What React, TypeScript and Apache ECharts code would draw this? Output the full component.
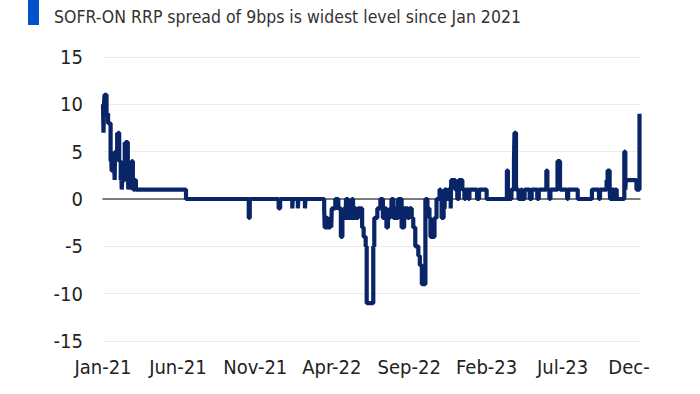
import React, { useEffect, useRef } from "react";
import * as echarts from "echarts";

const titleText = "SOFR-ON RRP spread of 9bps is widest level since Jan 2021";
const xTickDates = ["2021-01-04", "2021-06-01", "2021-11-01", "2022-04-01", "2022-09-01", "2023-02-01", "2023-07-01", "2023-12-01"];
const xTickLabels = ["Jan-21", "Jun-21", "Nov-21", "Apr-22", "Sep-22", "Feb-23", "Jul-23", "Dec-"];
const yMin = -15;
const yMax = 15;
const yStep = 5;

// SOFR minus ON RRP rate, bps (change points; value holds until next date)
const spread2021: [string, number][] = [
  ["2021-01-04", 10], ["2021-01-05", 7], ["2021-01-06", 10], ["2021-01-07", 11], ["2021-01-11", 9],
  ["2021-01-14", 8], ["2021-01-19", 4], ["2021-01-20", 5], ["2021-01-21", 3], ["2021-01-26", 4],
  ["2021-01-27", 2], ["2021-01-28", 5], ["2021-02-01", 7], ["2021-02-02", 6], ["2021-02-03", 7],
  ["2021-02-05", 4], ["2021-02-08", 2], ["2021-02-09", 3], ["2021-02-10", 1], ["2021-02-11", 2],
  ["2021-02-16", 6], ["2021-02-17", 5], ["2021-02-18", 6], ["2021-02-22", 3], ["2021-02-23", 1],
  ["2021-02-24", 2], ["2021-02-25", 1], ["2021-02-26", 3], ["2021-03-01", 2], ["2021-03-02", 4],
  ["2021-03-04", 2], ["2021-03-05", 1], ["2021-03-08", 2], ["2021-03-10", 1], ["2021-06-17", 0],
  ["2021-10-19", -2], ["2021-10-21", 0], ["2021-12-17", -1], ["2021-12-20", 0],
];

const spread2022: [string, number][] = [
  ["2022-01-13", -1], ["2022-01-14", 0], ["2022-01-24", -1], ["2022-01-25", 0], ["2022-02-07", -1],
  ["2022-02-08", 0], ["2022-03-17", -1], ["2022-03-18", -3], ["2022-03-22", -2], ["2022-03-24", -3],
  ["2022-03-29", -2], ["2022-03-31", -3], ["2022-04-01", -1], ["2022-04-08", 0], ["2022-04-14", -1],
  ["2022-04-19", -4], ["2022-04-22", -2], ["2022-04-25", -1], ["2022-04-27", -2], ["2022-04-29", 0],
  ["2022-05-03", -2], ["2022-05-05", -1], ["2022-05-09", -2], ["2022-05-11", 0], ["2022-05-13", -2],
  ["2022-05-17", -1], ["2022-05-19", -2], ["2022-05-23", -1], ["2022-05-31", -3], ["2022-06-03", -4],
  ["2022-06-07", -5], ["2022-06-09", -11], ["2022-06-22", -5], ["2022-06-24", -2], ["2022-06-30", -1],
  ["2022-07-06", 0], ["2022-07-11", -2], ["2022-07-14", -1], ["2022-07-18", -3], ["2022-07-21", -2],
  ["2022-07-25", -1], ["2022-07-28", 0], ["2022-08-01", -2], ["2022-08-04", -1], ["2022-08-08", -2],
  ["2022-08-10", 0], ["2022-08-17", -3], ["2022-08-22", -1], ["2022-08-29", -2], ["2022-09-01", -1],
  ["2022-09-06", -2], ["2022-09-09", -3], ["2022-09-13", -5], ["2022-09-19", -6], ["2022-09-22", -7],
  ["2022-09-26", -9], ["2022-10-03", 0], ["2022-10-07", -1], ["2022-10-11", -2], ["2022-10-13", -4],
  ["2022-10-21", -2], ["2022-10-25", 0], ["2022-10-31", 1], ["2022-11-02", 0], ["2022-11-04", -2],
  ["2022-11-08", -1], ["2022-11-10", 1], ["2022-11-14", 0], ["2022-11-17", 1], ["2022-11-22", -1],
  ["2022-11-23", 2], ["2022-12-01", 1], ["2022-12-05", 0], ["2022-12-08", 2], ["2022-12-15", 1],
  ["2022-12-19", 0], ["2022-12-21", 1], ["2022-12-27", 0], ["2022-12-29", 1],
];

const spread2023: [string, number][] = [
  ["2023-01-13", 0], ["2023-01-17", 1], ["2023-02-01", 0], ["2023-03-13", 3], ["2023-03-15", 0],
  ["2023-03-22", 1], ["2023-03-27", 4], ["2023-03-28", 7], ["2023-03-31", 1], ["2023-04-05", 0],
  ["2023-04-10", 1], ["2023-04-12", 0], ["2023-04-17", 1], ["2023-04-27", 0], ["2023-05-01", 1],
  ["2023-05-12", 0], ["2023-05-15", 1], ["2023-05-30", 3], ["2023-06-01", 1], ["2023-06-05", 0],
  ["2023-06-07", 1], ["2023-06-21", 4], ["2023-06-26", 1], ["2023-07-10", 0], ["2023-07-12", 1],
  ["2023-07-31", 0], ["2023-08-28", 1], ["2023-09-11", 0], ["2023-09-13", 1], ["2023-09-26", 2],
  ["2023-09-28", 3], ["2023-10-02", 1], ["2023-10-03", 0], ["2023-10-06", 1], ["2023-10-10", 0],
  ["2023-10-13", 1], ["2023-10-16", 0], ["2023-10-31", 5], ["2023-11-02", 1], ["2023-11-03", 2],
  ["2023-11-24", 1], ["2023-11-30", 9], ["2023-12-01", 9],
];

const FONT = "'Liberation Sans Narrow', 'DejaVu Sans Condensed', 'Roboto Condensed', sans-serif";

const dayOf = (s: string) =>
  (Date.UTC(+s.slice(0, 4), +s.slice(5, 7) - 1, +s.slice(8, 10)) - Date.UTC(2021, 0, 1)) / 86400000;

export default function App() {
  const ref = useRef<HTMLDivElement>(null);
  useEffect(() => {
    if (!ref.current) return;
    const chart = echarts.init(ref.current, null, { renderer: "svg" });
    const all = [...spread2021, ...spread2022, ...spread2023];
    const data = all.map(([d, v]) => [dayOf(d), v]);
    const tickDays = xTickDates.map(dayOf);
    const labelOf = (v: number) => {
      const i = tickDays.findIndex((t) => Math.abs(t - v) < 0.5);
      if (i < 0) return "";
      if (i === tickDays.length - 1) return "{r|" + xTickLabels[i] + "}";
      return xTickLabels[i];
    };
    chart.setOption({
      animation: false,
      backgroundColor: "#ffffff",
      grid: { left: 103, right: 60, top: 57, bottom: 53, containLabel: false },
      graphic: [
        { type: "rect", shape: { x: 28, y: 0, width: 11, height: 25 }, style: { fill: "#0052cc" } },
        {
          type: "text",
          x: 54,
          y: 17,
          style: { text: titleText, fill: "#333333", font: `17.5px ${FONT}`, textVerticalAlign: "middle" },
        },
      ],
      xAxis: {
        type: "value",
        min: tickDays[0],
        max: tickDays[tickDays.length - 1],
        axisLine: { onZero: true, lineStyle: { color: "#555555", width: 1.5 } },
        axisTick: { show: false },
        splitLine: { show: false },
        axisLabel: {
          customValues: tickDays,
          formatter: labelOf,
          color: "#222222",
          fontFamily: FONT,
          fontSize: 20,
          margin: 16,
          rich: { r: { fontFamily: FONT, fontSize: 20, color: "#222222", padding: [0, 22, 0, 0] } },
        },
      },
      yAxis: {
        type: "value",
        min: yMin,
        max: yMax,
        interval: yStep,
        axisLine: { show: false },
        axisTick: { show: false },
        splitLine: { lineStyle: { color: "#ececec", width: 1 } },
        axisLabel: { color: "#222222", fontFamily: FONT, fontSize: 20, margin: 20 },
      },
      series: [
        {
          type: "line",
          step: "end",
          symbol: "none",
          data,
          lineStyle: { color: "#0a2468", width: 4.2 },
        },
      ],
    });
    return () => chart.dispose();
  }, []);
  return (
    <div
      ref={ref}
      style={{ position: "fixed", left: 0, top: 0, width: 700, height: 394, background: "#fff" }}
    />
  );
}
